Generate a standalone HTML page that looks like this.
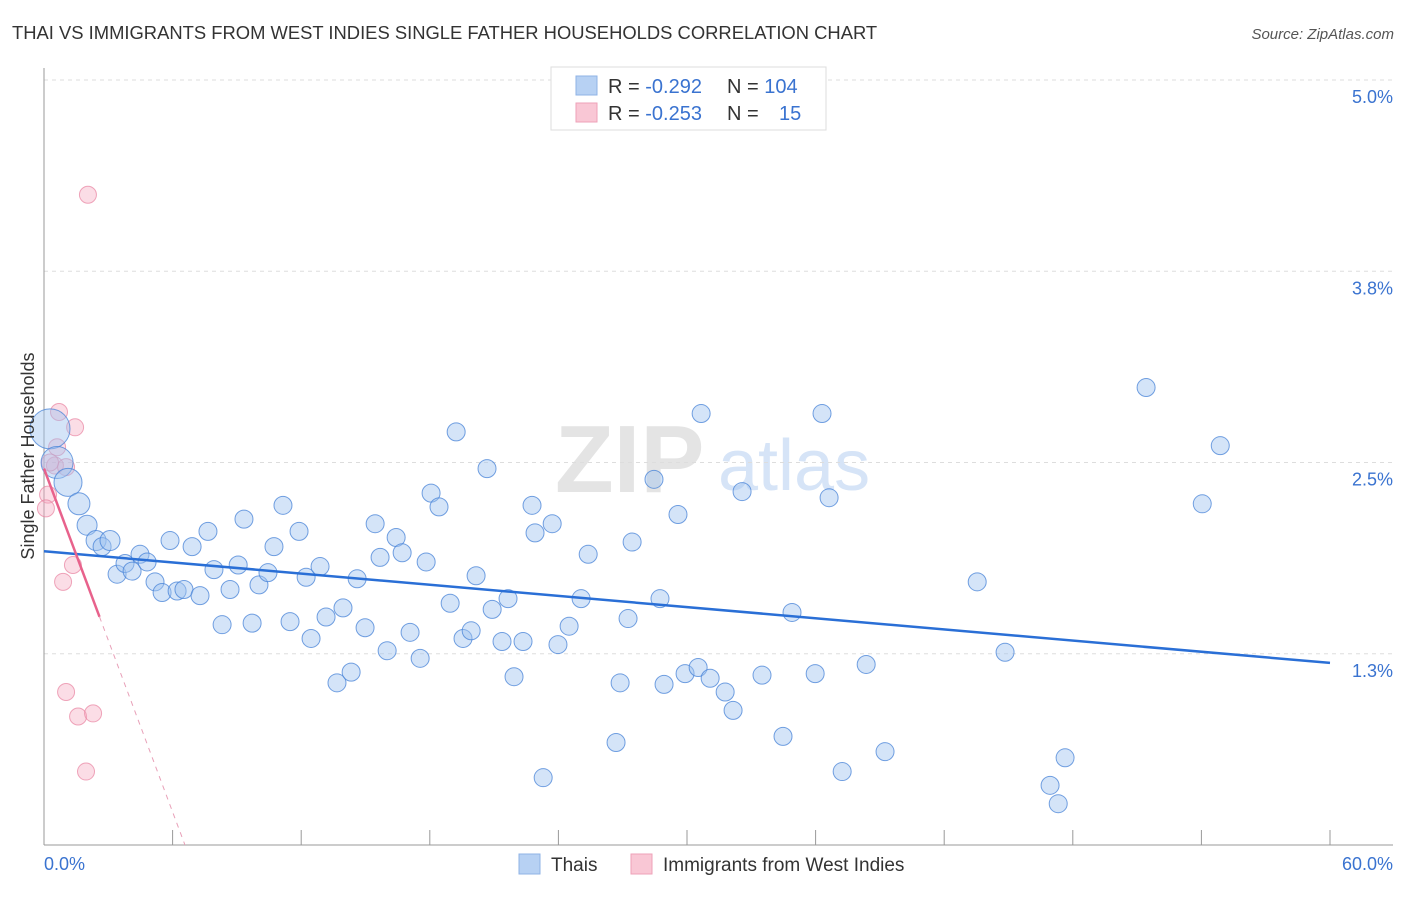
<!DOCTYPE html>
<html><head><meta charset="utf-8"><style>
body{margin:0;background:#fff;font-family:"Liberation Sans",sans-serif}
svg text{font-family:"Liberation Sans",sans-serif}
</style></head><body>
<svg id="chart" width="1406" height="892">
<text x="12" y="39" font-size="18.4" fill="#333">THAI VS IMMIGRANTS FROM WEST INDIES SINGLE FATHER HOUSEHOLDS CORRELATION CHART</text>
<text x="1394" y="39" font-size="15" fill="#555" font-style="italic" text-anchor="end">Source: ZipAtlas.com</text>
<g>
<text x="555" y="492" font-size="96" fill="#e4e4e4" font-family="Liberation Serif" font-weight="bold">ZIP</text>
<text x="718" y="490" font-size="72" fill="#d6e4f7">atlas</text>
</g>
<g id="grid"></g>
<g id="axes"></g>
<g id="marks"></g>
<text transform="translate(34,456) rotate(-90)" font-size="18" fill="#333" text-anchor="middle">Single Father Households</text>
<g>
<rect x="551" y="67" width="275" height="63" fill="#fff" stroke="#ddd"/>
<rect x="576" y="76" width="21" height="19" fill="#b7d1f3" stroke="#8fb3e6"/>
<rect x="576" y="103" width="21" height="19" fill="#f9c7d5" stroke="#eea2b8"/>
<text x="608" y="93" font-size="20" fill="#333">R = <tspan fill="#3a73d0">-0.292</tspan><tspan x="727">N = </tspan><tspan fill="#3a73d0">104</tspan></text>
<text x="608" y="120" font-size="20" fill="#333">R = <tspan fill="#3a73d0">-0.253</tspan><tspan x="727">N = </tspan><tspan x="779" fill="#3a73d0">15</tspan></text>
</g>
<g>
<rect x="519" y="854" width="21" height="20" fill="#b7d1f3" stroke="#8fb3e6"/>
<text x="551" y="871" font-size="19" fill="#333">Thais</text>
<rect x="631" y="854" width="21" height="20" fill="#f9c7d5" stroke="#eea2b8"/>
<text x="663" y="871" font-size="19" fill="#333">Immigrants from West Indies</text>
</g>
</svg>
<script>
const yTicks=[5.0,3.75,2.5,1.25];
const yTickLabels=["5.0%","3.8%","2.5%","1.3%"];
const xTickLabels=["0.0%","60.0%"];
const blueX=[0.28,0.61,1.12,1.63,2.01,2.43,2.71,3.08,3.41,3.78,4.11,4.48,4.81,5.18,5.51,5.88,6.21,6.53,6.91,7.28,7.65,7.93,8.31,8.68,9.06,9.33,9.71,10.03,10.45,10.73,11.15,11.48,11.90,12.23,12.46,12.88,13.16,13.67,13.95,14.33,14.61,14.98,15.45,15.68,16.01,16.43,16.71,17.08,17.55,17.83,18.06,18.43,18.95,19.23,19.55,19.93,20.16,20.67,20.91,21.37,21.65,21.93,22.35,22.77,22.91,23.29,23.71,23.98,24.50,25.06,25.39,26.69,26.88,27.25,27.44,28.46,28.74,28.93,29.58,29.91,30.52,30.66,31.08,31.78,32.15,32.57,33.50,34.48,34.90,35.98,36.30,36.63,37.24,38.36,39.24,43.54,44.84,46.94,47.32,47.64,51.42,54.04,54.88];
const blueY=[2.72,2.50,2.37,2.23,2.09,1.99,1.95,1.99,1.77,1.84,1.79,1.90,1.85,1.72,1.65,1.99,1.66,1.67,1.95,1.63,2.05,1.80,1.44,1.67,1.83,2.13,1.45,1.70,1.78,1.95,2.22,1.46,2.05,1.75,1.35,1.82,1.49,1.06,1.55,1.13,1.74,1.42,2.10,1.88,1.27,2.01,1.91,1.39,1.22,1.85,2.30,2.21,1.58,2.70,1.35,1.40,1.76,2.46,1.54,1.33,1.61,1.10,1.33,2.22,2.04,0.44,2.10,1.31,1.43,1.61,1.90,0.67,1.06,1.48,1.98,2.39,1.61,1.05,2.16,1.12,1.16,2.82,1.09,1.00,0.88,2.31,1.11,0.71,1.52,1.12,2.82,2.27,0.48,1.18,0.61,1.72,1.26,0.39,0.27,0.57,2.99,2.23,2.61];
const blueWeight=[20,16,14,11,10,10,9,10];
const pinkX=[2.05,0.70,1.45,0.61,0.51,1.03,0.19,0.09,1.35,0.89,1.03,1.59,2.29,1.96,0.28];
const pinkY=[4.25,2.83,2.73,2.60,2.48,2.47,2.29,2.20,1.83,1.72,1.00,0.84,0.86,0.48,2.50];
const blueTrend=[1.92,1.19];
const pinkTrend=[2.46,-0.374];
const NS="http://www.w3.org/2000/svg";
const X0=44,X1=1330,Y0=845,Y5=80;
const sx=v=>X0+(v/60)*(X1-X0);
const sy=v=>Y0-(v/5)*(Y0-Y5);
function mk(tag,attrs,parent){const e=document.createElementNS(NS,tag);for(const k in attrs)e.setAttribute(k,attrs[k]);parent.appendChild(e);return e;}
const grid=document.getElementById('grid'),axes=document.getElementById('axes'),marks=document.getElementById('marks');
yTicks.forEach((t,i)=>{
 const l=mk('line',{x1:X0,x2:1393,y1:sy(t),y2:sy(t),stroke:'#ddd','stroke-dasharray':'4,4'},grid);
 
 
 const tx=mk('text',{x:1393,y:sy(t)+23,'font-size':18,fill:'#3a73d0','text-anchor':'end'},axes);
 tx.textContent=yTickLabels[i];
 
 
});
const ya=mk('line',{x1:X0,x2:X0,y1:68,y2:Y0,stroke:'#999'},axes);


const xa=mk('line',{x1:X0,x2:1393,y1:Y0,y2:Y0,stroke:'#999'},axes);


for(let i=0;i<=10;i++){
 const tk=mk('line',{x1:sx(i*6),x2:sx(i*6),y1:830,y2:Y0,stroke:'#999'},axes);
 
 
}
const xl0=mk('text',{x:44,y:870,'font-size':18,fill:'#3a73d0'},axes);
xl0.textContent=xTickLabels[0];


const xl1=mk('text',{x:1393,y:870,'font-size':18,fill:'#3a73d0','text-anchor':'end'},axes);
xl1.textContent=xTickLabels[1];


pinkX.forEach((v,i)=>{
 const c=mk('circle',{cx:sx(v),cy:sy(pinkY[i]),r:8.5,fill:'rgba(246,170,192,0.4)',stroke:'rgba(232,130,160,0.7)','stroke-width':1},marks);
 
 
});
blueX.forEach((v,i)=>{
 const r=i<blueWeight.length?blueWeight[i]:9;
 const c=mk('circle',{cx:sx(v),cy:sy(blueY[i]),r:r,fill:'rgba(160,196,240,0.45)',stroke:'rgba(70,130,215,0.75)','stroke-width':1},marks);
 
 
});
const bt=mk('line',{x1:sx(0),y1:sy(blueTrend[0]),x2:sx(60),y2:sy(blueTrend[1]),stroke:'#2a6fd6','stroke-width':2.5},marks);


const pxEnd=2.59,pxZero=-pinkTrend[0]/pinkTrend[1];
const pt=mk('line',{x1:sx(0),y1:sy(pinkTrend[0]),x2:sx(pxEnd),y2:sy(pinkTrend[0]+pinkTrend[1]*pxEnd),stroke:'#e8628c','stroke-width':2.5},marks);


const pd=mk('line',{x1:sx(pxEnd),y1:sy(pinkTrend[0]+pinkTrend[1]*pxEnd),x2:sx(pxZero),y2:sy(0),stroke:'#e8a0b8','stroke-width':1,'stroke-dasharray':'5,5'},marks);


</script>
</body></html>
